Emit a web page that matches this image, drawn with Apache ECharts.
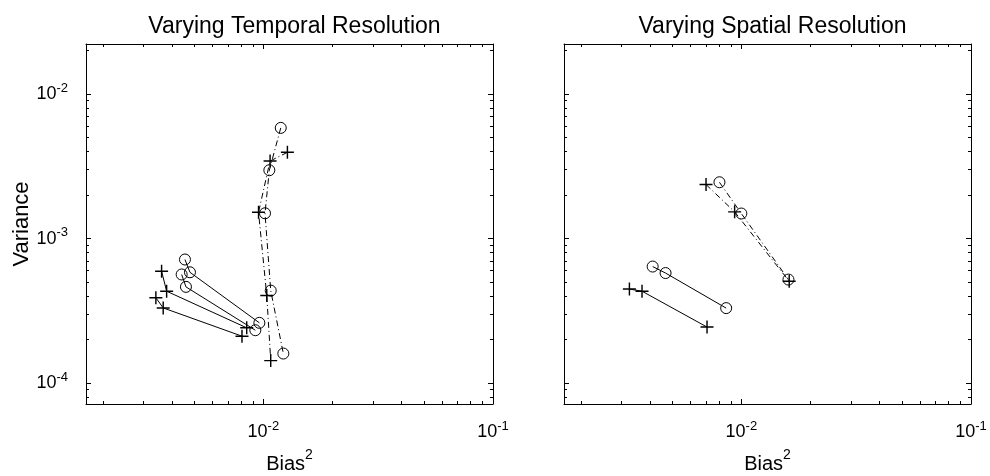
<!DOCTYPE html>
<html>
<head>
<meta charset="utf-8">
<script src="https://cdn.jsdelivr.net/npm/echarts@6/dist/echarts.min.js"></script>
<style>
html, body { margin: 0; padding: 0; background: #fff; }
#chart { width: 990px; height: 476px; }
</style>
</head>
<body>
<div id="chart"></div>
<script>
// left panel: varying temporal resolution  [bias^2, variance]
var tempCircleDash = [[0.01191, 0.00583], [0.01062, 0.00297], [0.01017, 0.001496], [0.01077, 0.000436], [0.01222, 0.00016]];
var tempPlusDash = [[0.01273, 0.00395], [0.01070, 0.00344], [0.00953, 0.00152], [0.01035, 0.000403], [0.01077, 0.000143]];
var tempCircleA = [[0.004558, 0.000716], [0.004792, 0.000584], [0.00961, 0.000261]];
var tempCircleB = [[0.004409, 0.000564], [0.004603, 0.000463], [0.00923, 0.000232]];
var tempPlusA = [[0.003606, 0.000594], [0.003793, 0.000432], [0.008465, 0.000241]];
var tempPlusB = [[0.003405, 0.000389], [0.003665, 0.000331], [0.008074, 0.000211]];

// right panel: varying spatial resolution
var spatCircleDash = [[0.00803, 0.002452], [0.0100, 0.00149], [0.01604, 0.00052]];
var spatPlusDash = [[0.00702, 0.002364], [0.00935, 0.00153], [0.01616, 0.000506]];
var spatCircle = [[0.004111, 0.00064], [0.004679, 0.000577], [0.00859, 0.00033]];
var spatPlus = [[0.003256, 0.000447], [0.003695, 0.000432], [0.00709, 0.000244]];

var panelTitles = ['Varying Temporal Resolution', 'Varying Spatial Resolution'];
var xMajor = [0.01, 0.1];
var xMinor = [0.002, 0.003, 0.004, 0.005, 0.006, 0.007, 0.008, 0.009,
              0.02, 0.03, 0.04, 0.05, 0.06, 0.07, 0.08, 0.09];
var yMajor = [0.0001, 0.001, 0.01];
var yMinor = [0.00008, 0.00009, 0.0002, 0.0003, 0.0004, 0.0005, 0.0006, 0.0007, 0.0008, 0.0009,
              0.002, 0.003, 0.004, 0.005, 0.006, 0.007, 0.008, 0.009, 0.02];

var xMin = 0.00169, xMax = 0.1;
var yMin = 0.0000716, yMax = 0.0222;

var FONT = 'Liberation Sans, Arial, Helvetica, sans-serif';
var panelLeft = [86, 564];
var panelWidth = 407, panelTop = 44, panelHeight = 360;

var plusPath = 'path://M0,4.45H10V5.55H0ZM4.45,0H5.55V10H4.45Z';

var tickRich = {
    b: { fontSize: 18, lineHeight: 25, fontFamily: FONT, color: '#000' },
    s: { fontSize: 13, lineHeight: 13, fontFamily: FONT, color: '#000', verticalAlign: 'top' }
};
function powLabel(v) {
    var p = Math.round(Math.log(v) / Math.LN10);
    return '{b|10}{s|' + p + '}';
}

var grids = [], xAxes = [], yAxes = [], titles = [];

function axisCommon(gridIndex, pos, ticks, len, lineOn, labels, isX) {
    return {
        type: 'log',
        logBase: 10,
        gridIndex: gridIndex,
        position: pos,
        min: isX ? xMin : yMin,
        max: isX ? xMax : yMax,
        splitLine: { show: false },
        axisLine: { show: lineOn, onZero: false, lineStyle: { color: '#000', width: 1 } },
        axisTick: { show: true, inside: true, length: len, customValues: ticks,
                    lineStyle: { color: '#000', width: 1 } },
        axisLabel: labels ? {
            show: true, customValues: labels, margin: isX ? 16 : 18,
            formatter: powLabel, rich: tickRich
        } : { show: false }
    };
}

for (var p = 0; p < 2; p++) {
    var gMaj = p * 2, gMin = p * 2 + 1;
    [gMaj, gMin].forEach(function () {
        grids.push({ left: panelLeft[p], top: panelTop, width: panelWidth, height: panelHeight,
                     outerBoundsMode: 'none', containLabel: false });
    });
    titles.push({
        text: panelTitles[p],
        left: panelLeft[p] + panelWidth / 2,
        top: 10,
        textAlign: 'center',
        textStyle: { fontSize: 23, fontWeight: 'normal', fontFamily: FONT, color: '#000' }
    });

    var xb = axisCommon(gMaj, 'bottom', xMajor, 5, true, xMajor, true);
    xb.name = '{b|Bias}{s|2}';
    xb.nameLocation = 'middle';
    xb.nameGap = 44;
    xb.nameTextStyle = {
        rich: {
            b: { fontSize: 20, lineHeight: 32, fontFamily: FONT, color: '#000' },
            s: { fontSize: 14, lineHeight: 14, fontFamily: FONT, color: '#000', verticalAlign: 'top' }
        }
    };
    xAxes.push(xb);
    xAxes.push(axisCommon(gMaj, 'top', xMajor, 5, true, null, true));
    xAxes.push(axisCommon(gMin, 'bottom', xMinor, 3, false, null, true));
    xAxes.push(axisCommon(gMin, 'top', xMinor, 3, false, null, true));

    var yl = axisCommon(gMaj, 'left', yMajor, 5, true, p === 0 ? yMajor : null, false);
    if (p === 0) {
        yl.name = 'Variance';
        yl.nameLocation = 'middle';
        yl.nameGap = 52;
        yl.nameTextStyle = { fontSize: 22, fontFamily: FONT, color: '#000' };
    }
    yAxes.push(yl);
    yAxes.push(axisCommon(gMaj, 'right', yMajor, 5, true, null, false));
    yAxes.push(axisCommon(gMin, 'left', yMinor, 3, false, null, false));
    yAxes.push(axisCommon(gMin, 'right', yMinor, 3, false, null, false));
}

function chain(data, panel, marker, dashed) {
    var isPlus = marker === 'plus';
    return {
        type: 'line',
        xAxisIndex: panel * 4,
        yAxisIndex: panel * 4,
        data: data,
        symbol: isPlus ? plusPath : 'circle',
        symbolSize: isPlus ? 13 : 11,
        showSymbol: true,
        itemStyle: isPlus
            ? { color: '#000', borderWidth: 0 }
            : { color: 'rgba(0,0,0,0)', borderColor: '#000', borderWidth: 1 },
        lineStyle: { color: '#000', width: 1, type: dashed ? [6, 3, 1, 3] : 'solid' },
        emphasis: { disabled: true },
        silent: true
    };
}

var chart = echarts.init(document.getElementById('chart'));
chart.setOption({
    animation: false,
    backgroundColor: '#fff',
    title: titles,
    grid: grids,
    xAxis: xAxes,
    yAxis: yAxes,
    series: [
        chain(tempCircleDash, 0, 'circle', true),
        chain(tempPlusDash, 0, 'plus', true),
        chain(tempCircleA, 0, 'circle', false),
        chain(tempCircleB, 0, 'circle', false),
        chain(tempPlusA, 0, 'plus', false),
        chain(tempPlusB, 0, 'plus', false),
        chain(spatCircleDash, 1, 'circle', true),
        chain(spatPlusDash, 1, 'plus', true),
        chain(spatCircle, 1, 'circle', false),
        chain(spatPlus, 1, 'plus', false)
    ]
});
</script>
</body>
</html>
